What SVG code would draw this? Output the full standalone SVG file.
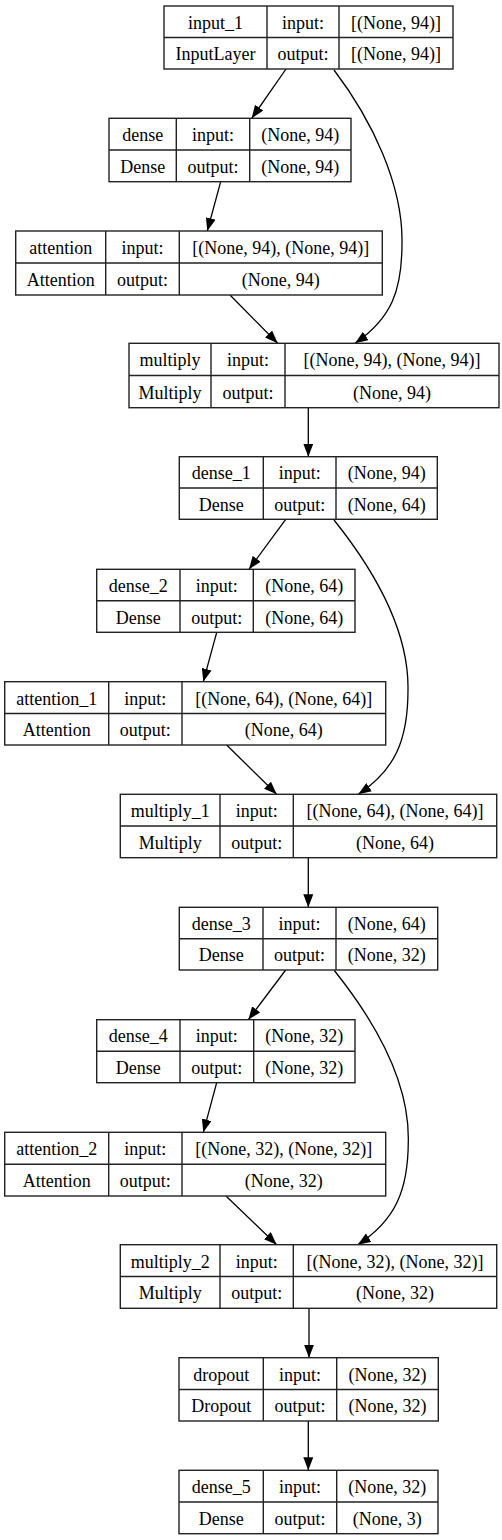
<svg xmlns="http://www.w3.org/2000/svg" width="502" height="1540" viewBox="0 0 502 1540">
<style>
.b{fill:#fff;stroke:#222;stroke-width:1.4}
.l{stroke:#222;stroke-width:1.4;fill:none}
text{font-family:"Liberation Serif","Times New Roman",serif;font-size:18px;fill:#000;text-anchor:middle}
.e{fill:none;stroke:#000;stroke-width:1.3}
</style>
<defs>
<marker id="ah" markerUnits="userSpaceOnUse" viewBox="0 0 13 10" refX="13" refY="5" markerWidth="13" markerHeight="10" orient="auto">
<path d="M0,0 L13,5 L0,10 z" fill="#000"/>
</marker>
</defs>
<rect width="502" height="1540" fill="#fff"/>
<g id="connectors">
<path class="e" marker-end="url(#ah)" d="M286,69 L251.7,118.3"/>
<path class="e" marker-end="url(#ah)" d="M334,70 C372,120 403,185 402,243 C402,290 392,318 355,343.3"/>
<path class="e" marker-end="url(#ah)" d="M220.7,181.7 L207.3,231"/>
<path class="e" marker-end="url(#ah)" d="M230,295 L277.7,343.3"/>
<path class="e" marker-end="url(#ah)" d="M308.3,407.7 L308.3,456.7"/>
<path class="e" marker-end="url(#ah)" d="M285.7,519.3 L249,569.3"/>
<path class="e" marker-end="url(#ah)" d="M334,520 C374,570 409,630 408,690 C408,740 395,770 358.3,794.3"/>
<path class="e" marker-end="url(#ah)" d="M216.7,632.3 L203.3,681.7"/>
<path class="e" marker-end="url(#ah)" d="M226.7,745 L276.7,794.3"/>
<path class="e" marker-end="url(#ah)" d="M308.3,857.7 L308.3,907.3"/>
<path class="e" marker-end="url(#ah)" d="M285.7,970 L248.3,1019.7"/>
<path class="e" marker-end="url(#ah)" d="M334.3,970.5 C374.3,1020.5 409.3,1080.5 408.3,1140.5 C408.3,1190.5 395.3,1220.5 357.7,1244.7"/>
<path class="e" marker-end="url(#ah)" d="M216.7,1082.7 L203.3,1132.3"/>
<path class="e" marker-end="url(#ah)" d="M226,1196 L276.7,1244.7"/>
<path class="e" marker-end="url(#ah)" d="M309,1308.3 L309,1357.7"/>
<path class="e" marker-end="url(#ah)" d="M308.3,1421 L308.3,1470.3"/>
</g>
<g id="input_1">
<rect class="b" x="164" y="6" width="289" height="63"/>
<path class="l" d="M164,37.5 H453 M267,6 V69 M339,6 V69"/>
<text x="215.5" y="28.75">input_1</text><text x="303" y="28.75">input:</text><text x="396" y="28.75">[(None, 94)]</text>
<text x="215.5" y="60.25">InputLayer</text><text x="303" y="60.25">output:</text><text x="396" y="60.25">[(None, 94)]</text>
</g>
<g id="dense">
<rect class="b" x="109" y="118.3" width="242" height="63.4"/>
<path class="l" d="M109,150 H351 M176.3,118.3 V181.7 M249.7,118.3 V181.7"/>
<text x="142.65" y="141.2">dense</text><text x="213" y="141.2">input:</text><text x="300.35" y="141.2">(None, 94)</text>
<text x="142.65" y="172.9">Dense</text><text x="213" y="172.9">output:</text><text x="300.35" y="172.9">(None, 94)</text>
</g>
<g id="attention">
<rect class="b" x="15.7" y="231" width="366.6" height="64"/>
<path class="l" d="M15.7,263 H382.3 M105.7,231 V295 M179.3,231 V295"/>
<text x="60.7" y="254">attention</text><text x="142.5" y="254">input:</text><text x="280.8" y="254">[(None, 94), (None, 94)]</text>
<text x="60.7" y="286">Attention</text><text x="142.5" y="286">output:</text><text x="280.8" y="286">(None, 94)</text>
</g>
<g id="multiply">
<rect class="b" x="129" y="343.3" width="370" height="64.4"/>
<path class="l" d="M129,375.5 H499 M211,343.3 V407.7 M285,343.3 V407.7"/>
<text x="170" y="366.4">multiply</text><text x="248" y="366.4">input:</text><text x="392" y="366.4">[(None, 94), (None, 94)]</text>
<text x="170" y="398.6">Multiply</text><text x="248" y="398.6">output:</text><text x="392" y="398.6">(None, 94)</text>
</g>
<g id="dense_1">
<rect class="b" x="179.3" y="456.7" width="258" height="62.6"/>
<path class="l" d="M179.3,488 H437.3 M263.3,456.7 V519.3 M336,456.7 V519.3"/>
<text x="221.3" y="479.35">dense_1</text><text x="299.65" y="479.35">input:</text><text x="386.65" y="479.35">(None, 94)</text>
<text x="221.3" y="510.65">Dense</text><text x="299.65" y="510.65">output:</text><text x="386.65" y="510.65">(None, 64)</text>
</g>
<g id="dense_2">
<rect class="b" x="96.7" y="569.3" width="258.3" height="63"/>
<path class="l" d="M96.7,600.8 H355 M180,569.3 V632.3 M253.3,569.3 V632.3"/>
<text x="138.35" y="592.05">dense_2</text><text x="216.65" y="592.05">input:</text><text x="304.15" y="592.05">(None, 64)</text>
<text x="138.35" y="623.55">Dense</text><text x="216.65" y="623.55">output:</text><text x="304.15" y="623.55">(None, 64)</text>
</g>
<g id="attention_1">
<rect class="b" x="4.7" y="681.7" width="381" height="63.3"/>
<path class="l" d="M4.7,713.5 H385.7 M108.7,681.7 V745 M182,681.7 V745"/>
<text x="56.7" y="704.6">attention_1</text><text x="145.35" y="704.6">input:</text><text x="283.85" y="704.6">[(None, 64), (None, 64)]</text>
<text x="56.7" y="736.25">Attention</text><text x="145.35" y="736.25">output:</text><text x="283.85" y="736.25">(None, 64)</text>
</g>
<g id="multiply_1">
<rect class="b" x="120.3" y="794.3" width="376.4" height="63.4"/>
<path class="l" d="M120.3,826 H496.7 M220,794.3 V857.7 M293.3,794.3 V857.7"/>
<text x="170.15" y="817.15">multiply_1</text><text x="256.65" y="817.15">input:</text><text x="395" y="817.15">[(None, 64), (None, 64)]</text>
<text x="170.15" y="848.85">Multiply</text><text x="256.65" y="848.85">output:</text><text x="395" y="848.85">(None, 64)</text>
</g>
<g id="dense_3">
<rect class="b" x="179.3" y="907.3" width="258.4" height="62.7"/>
<path class="l" d="M179.3,938.7 H437.7 M263,907.3 V970 M336,907.3 V970"/>
<text x="221.15" y="930">dense_3</text><text x="299.5" y="930">input:</text><text x="386.85" y="930">(None, 64)</text>
<text x="221.15" y="961.35">Dense</text><text x="299.5" y="961.35">output:</text><text x="386.85" y="961.35">(None, 32)</text>
</g>
<g id="dense_4">
<rect class="b" x="96.7" y="1019.7" width="258.3" height="63"/>
<path class="l" d="M96.7,1051.2 H355 M180,1019.7 V1082.7 M253.7,1019.7 V1082.7"/>
<text x="138.35" y="1042.45">dense_4</text><text x="216.85" y="1042.45">input:</text><text x="304.35" y="1042.45">(None, 32)</text>
<text x="138.35" y="1073.95">Dense</text><text x="216.85" y="1073.95">output:</text><text x="304.35" y="1073.95">(None, 32)</text>
</g>
<g id="attention_2">
<rect class="b" x="4.7" y="1132.3" width="381" height="63.7"/>
<path class="l" d="M4.7,1164.2 H385.7 M108.7,1132.3 V1196 M182,1132.3 V1196"/>
<text x="56.7" y="1155.25">attention_2</text><text x="145.35" y="1155.25">input:</text><text x="283.85" y="1155.25">[(None, 32), (None, 32)]</text>
<text x="56.7" y="1187.1">Attention</text><text x="145.35" y="1187.1">output:</text><text x="283.85" y="1187.1">(None, 32)</text>
</g>
<g id="multiply_2">
<rect class="b" x="120.3" y="1244.7" width="376.4" height="63.6"/>
<path class="l" d="M120.3,1276.5 H496.7 M220,1244.7 V1308.3 M293.3,1244.7 V1308.3"/>
<text x="170.15" y="1267.6">multiply_2</text><text x="256.65" y="1267.6">input:</text><text x="395" y="1267.6">[(None, 32), (None, 32)]</text>
<text x="170.15" y="1299.4">Multiply</text><text x="256.65" y="1299.4">output:</text><text x="395" y="1299.4">(None, 32)</text>
</g>
<g id="dropout">
<rect class="b" x="179" y="1357.7" width="259.3" height="63.3"/>
<path class="l" d="M179,1389.5 H438.3 M263.3,1357.7 V1421 M336.7,1357.7 V1421"/>
<text x="221.15" y="1380.6">dropout</text><text x="300" y="1380.6">input:</text><text x="387.5" y="1380.6">(None, 32)</text>
<text x="221.15" y="1412.25">Dropout</text><text x="300" y="1412.25">output:</text><text x="387.5" y="1412.25">(None, 32)</text>
</g>
<g id="dense_5">
<rect class="b" x="179" y="1470.3" width="259" height="63.4"/>
<path class="l" d="M179,1502 H438 M263.3,1470.3 V1533.7 M336.7,1470.3 V1533.7"/>
<text x="221.15" y="1493.15">dense_5</text><text x="300" y="1493.15">input:</text><text x="387.35" y="1493.15">(None, 32)</text>
<text x="221.15" y="1524.85">Dense</text><text x="300" y="1524.85">output:</text><text x="387.35" y="1524.85">(None, 3)</text>
</g>
</svg>
